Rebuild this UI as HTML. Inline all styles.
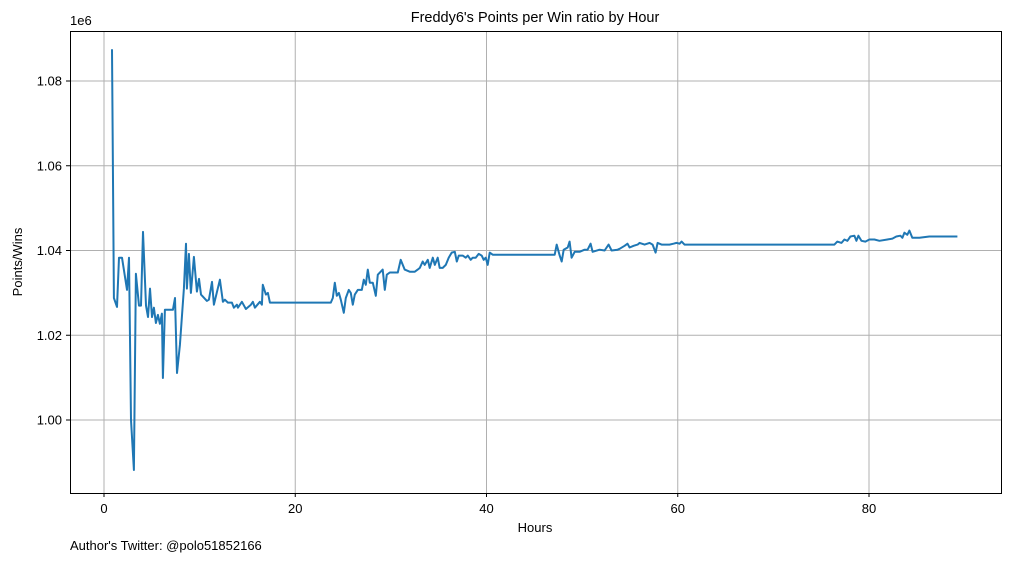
<!DOCTYPE html>
<html><head><meta charset="utf-8"><style>
body{margin:0;background:#fff;}
svg{display:block;font-family:"Liberation Sans","DejaVu Sans",sans-serif;}
</style></head><body>
<svg id="chart" width="1010" height="562">
<rect x="0" y="0" width="1010" height="562" fill="#fff"/>
<text x="535" y="22" font-size="14.5" text-anchor="middle">Freddy6's Points per Win ratio by Hour</text>
<g id="grid"></g>
<g id="ticks"></g>
<path id="line" fill="none" stroke="#1f77b4" stroke-width="2" stroke-linejoin="round"/>
<rect x="70.5" y="31.5" width="931" height="462" fill="none" stroke="#000" stroke-width="1"/>
<text x="70" y="25" font-size="13">1e6</text>
<text x="535" y="532" font-size="13" text-anchor="middle">Hours</text>
<text x="22" y="262" font-size="13" text-anchor="middle" transform="rotate(-90 22 262)">Points/Wins</text>
<text x="70" y="550" font-size="13">Author's Twitter: @polo51852166</text>
</svg>
<script>
const hours=[0.84,1.04,1.36,1.57,1.88,2.40,2.61,2.82,3.13,3.34,3.66,3.87,4.08,4.39,4.60,4.81,5.02,5.22,5.43,5.64,5.85,6.06,6.16,6.37,7.21,7.42,7.63,7.94,8.36,8.57,8.67,8.88,9.09,9.40,9.72,9.93,10.14,10.76,10.97,11.29,11.49,12.12,12.43,12.64,12.96,13.38,13.58,13.90,14.00,14.42,14.84,15.36,15.57,15.78,16.30,16.51,16.61,16.93,17.14,17.35,23.72,23.93,24.14,24.35,24.56,24.76,25.08,25.29,25.60,25.81,26.02,26.23,26.54,26.96,27.17,27.38,27.59,27.80,28.11,28.42,28.63,29.15,29.36,29.57,29.89,30.41,30.72,31.03,31.45,31.97,32.50,32.81,33.02,33.33,33.54,33.86,34.06,34.38,34.59,34.90,35.11,35.42,35.74,36.05,36.36,36.68,36.89,37.10,37.51,37.83,38.04,38.35,38.56,38.87,39.18,39.50,39.71,39.92,40.13,40.33,40.65,47.13,47.34,47.65,47.86,48.07,48.49,48.69,48.90,49.22,49.74,50.26,50.57,50.89,51.10,51.83,52.35,52.77,53.08,53.71,53.92,54.44,54.75,54.96,55.38,55.80,56.01,56.53,57.05,57.37,57.68,57.89,58.31,59.14,59.56,59.87,60.19,60.40,60.71,61.23,76.38,76.69,77.12,77.43,77.74,78.06,78.47,78.68,78.89,79.21,79.62,80.04,80.56,81.09,81.92,82.45,82.86,83.28,83.49,83.70,84.01,84.22,84.53,85.27,86.31,89.24];
const ratios=[1.0875,1.0288,1.0267,1.0383,1.0383,1.0307,1.0383,1.0000,0.9882,1.0345,1.0270,1.0270,1.0444,1.0270,1.0243,1.0310,1.0243,1.0265,1.0229,1.0248,1.0227,1.0251,1.0099,1.0260,1.0260,1.0288,1.0111,1.0177,1.0310,1.0416,1.0310,1.0392,1.0300,1.0385,1.0303,1.0333,1.0296,1.0281,1.0284,1.0326,1.0272,1.0331,1.0279,1.0284,1.0277,1.0277,1.0265,1.0272,1.0265,1.0279,1.0262,1.0272,1.0279,1.0265,1.0279,1.0272,1.0319,1.0296,1.0300,1.0277,1.0277,1.0288,1.0324,1.0293,1.0300,1.0284,1.0253,1.0288,1.0307,1.0300,1.0272,1.0296,1.0307,1.0307,1.0331,1.0319,1.0355,1.0324,1.0324,1.0293,1.0343,1.0355,1.0307,1.0343,1.0348,1.0348,1.0348,1.0378,1.0355,1.0350,1.0350,1.0355,1.0359,1.0374,1.0366,1.0378,1.0359,1.0383,1.0366,1.0383,1.0359,1.0359,1.0366,1.0383,1.0395,1.0397,1.0374,1.0388,1.0388,1.0383,1.0388,1.0378,1.0383,1.0383,1.0392,1.0388,1.0378,1.0383,1.0366,1.0395,1.0390,1.0390,1.0414,1.0388,1.0374,1.0402,1.0407,1.0421,1.0383,1.0397,1.0397,1.0402,1.0402,1.0416,1.0397,1.0402,1.0400,1.0414,1.0400,1.0402,1.0404,1.0411,1.0416,1.0407,1.0411,1.0414,1.0418,1.0414,1.0418,1.0414,1.0395,1.0418,1.0414,1.0414,1.0416,1.0418,1.0416,1.0421,1.0414,1.0414,1.0414,1.0421,1.0418,1.0426,1.0423,1.0433,1.0435,1.0423,1.0435,1.0423,1.0421,1.0426,1.0426,1.0423,1.0426,1.0428,1.0433,1.0435,1.0430,1.0442,1.0437,1.0447,1.0430,1.0430,1.0433,1.0433];
const xTicks=[0,20,40,60,80];
const yTicks=[1.00,1.02,1.04,1.06,1.08];
const yTickLabels=["1.00","1.02","1.04","1.06","1.08"];

const NS="http://www.w3.org/2000/svg";
function xs(h){return 104+(h-0)*(869-104)/80;}
function ys(v){return 420-(v-1.00)*(420-81)/0.08;}
const grid=document.getElementById('grid'),ticks=document.getElementById('ticks');
function mk(tag,attrs,parent){const e=document.createElementNS(NS,tag);for(const k in attrs)e.setAttribute(k,attrs[k]);parent.appendChild(e);return e;}
xTicks.forEach(t=>{
  const x=xs(t);
  const g=mk('line',{x1:x,x2:x,y1:31,y2:493,stroke:'#b0b0b0','stroke-width':1},grid);
  
  
  const tk=mk('line',{x1:x,x2:x,y1:493,y2:497,stroke:'#000'},ticks);
  
  
  const lb=mk('text',{x:x,y:513,'font-size':13,'text-anchor':'middle'},ticks);
  lb.textContent=t;
  
  
});
yTicks.forEach((t,i)=>{
  const y=ys(t);
  const g=mk('line',{x1:70,x2:1001,y1:y,y2:y,stroke:'#b0b0b0','stroke-width':1},grid);
  
  
  const tk=mk('line',{x1:66,x2:70,y1:y,y2:y,stroke:'#000'},ticks);
  
  
  const lb=mk('text',{x:62,y:y+4.5,'font-size':13,'text-anchor':'end'},ticks);
  lb.textContent=yTickLabels[i];
  
  
});
let d='';
hours.forEach((h,i)=>{d+=(i?'L':'M')+xs(h).toFixed(1)+','+ys(ratios[i]).toFixed(1);});
document.getElementById('line').setAttribute('d',d);
</script>
</body></html>
